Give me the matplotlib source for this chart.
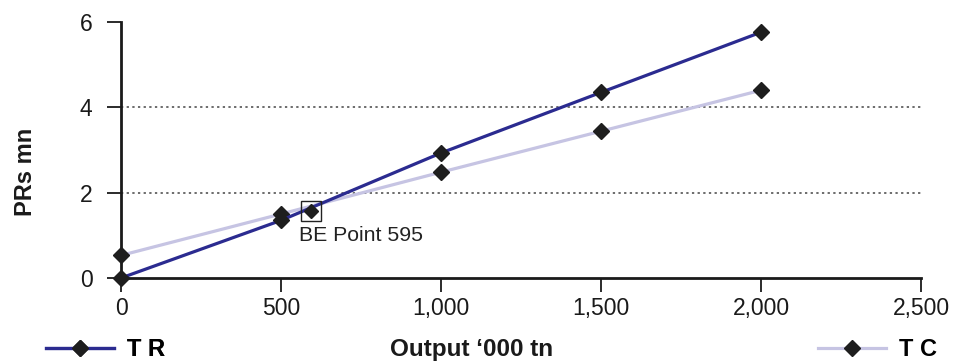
import matplotlib
matplotlib.use("Agg")
import matplotlib.pyplot as plt

plt.rcParams['font.family'] = ['Liberation Sans', 'DejaVu Sans']

# Output in '000 tonnes and revenue / cost in PRs mn
output = [0, 500, 1000, 1500, 2000]
total_revenue = [0.0, 1.35, 2.93, 4.35, 5.76]
total_cost = [0.53, 1.50, 2.48, 3.44, 4.40]
be_output = 595
be_value = 1.57
be_label = "BE Point 595"

x_ticks = [0, 500, 1000, 1500, 2000, 2500]
x_ticklabels = ["0", "500", "1,000", "1,500", "2,000", "2,500"]
y_ticks = [0, 2, 4, 6]

TR_COLOR = "#2b2b90"
TC_COLOR = "#c6c4e3"
MARK = "#1e1e1e"
TEXT = "#1a1a1a"

W, H = 963, 362
fig = plt.figure(figsize=(W / 100, H / 100), dpi=100)
ax = fig.add_axes([121 / W, 84 / H, 800 / W, 256 / H])

for yv in (2, 4):
    ax.axhline(yv, color="#444444", lw=1.1, ls=(0, (1.5, 2.2)), zorder=1)

tc_line, = ax.plot(output, total_cost, color=TC_COLOR, lw=2.3, marker="D",
                   ms=7.8, mfc=MARK, mec=MARK, zorder=3, clip_on=False)
tr_line, = ax.plot(output, total_revenue, color=TR_COLOR, lw=2.3, marker="D",
                   ms=7.8, mfc=MARK, mec=MARK, zorder=4, clip_on=False)

# break-even point
ax.plot([be_output], [be_value], marker="D", ms=7.2, color=MARK, zorder=5)
ax.plot([be_output], [be_value], marker="s", ms=14, mfc="none", mec="#222222",
        mew=1.0, zorder=5)
ax.annotate(be_label, (be_output, be_value), xytext=(-9, -11),
            textcoords="offset points", ha="left", va="top",
            fontsize=15.3, color="#222222")

ax.set_xlim(0, 2500)
ax.set_ylim(0, 6)
ax.set_xticks(x_ticks)
ax.set_xticklabels(x_ticklabels)
ax.set_yticks(y_ticks)

for side in ("top", "right"):
    ax.spines[side].set_visible(False)
for side in ("left", "bottom"):
    ax.spines[side].set_linewidth(2.0)
    ax.spines[side].set_color(TEXT)
ax.tick_params(axis="y", direction="out", length=10, width=1.3,
               labelsize=16.5, pad=10.5, colors=TEXT)
ax.tick_params(axis="x", direction="out", length=10, width=1.3,
               labelsize=16.5, pad=4, colors=TEXT)

fig.text(26 / W, 1 - 171.5 / H, "PRs mn", rotation=90, ha="center",
         va="center", fontsize=17, fontweight="bold", color=TEXT)
fig.text(472 / W, 1 / H, "Output \u2018000 tn", ha="center",
         va="bottom", fontsize=17.5, fontweight="bold", color=TEXT)

leg_kw = dict(loc="center left", frameon=False, handlelength=2.9,
              handletextpad=0.55, borderaxespad=0, borderpad=0,
              prop={"size": 17, "weight": "bold"})
leg1 = fig.legend([tr_line], ["T R"], bbox_to_anchor=(46 / W, 1 - 350 / H),
                  **leg_kw)
leg2 = fig.legend([tc_line], ["T C"], bbox_to_anchor=(818 / W, 1 - 350 / H),
                  **leg_kw)
fig.add_artist(leg1)

fig.savefig("out.png", dpi=100)
